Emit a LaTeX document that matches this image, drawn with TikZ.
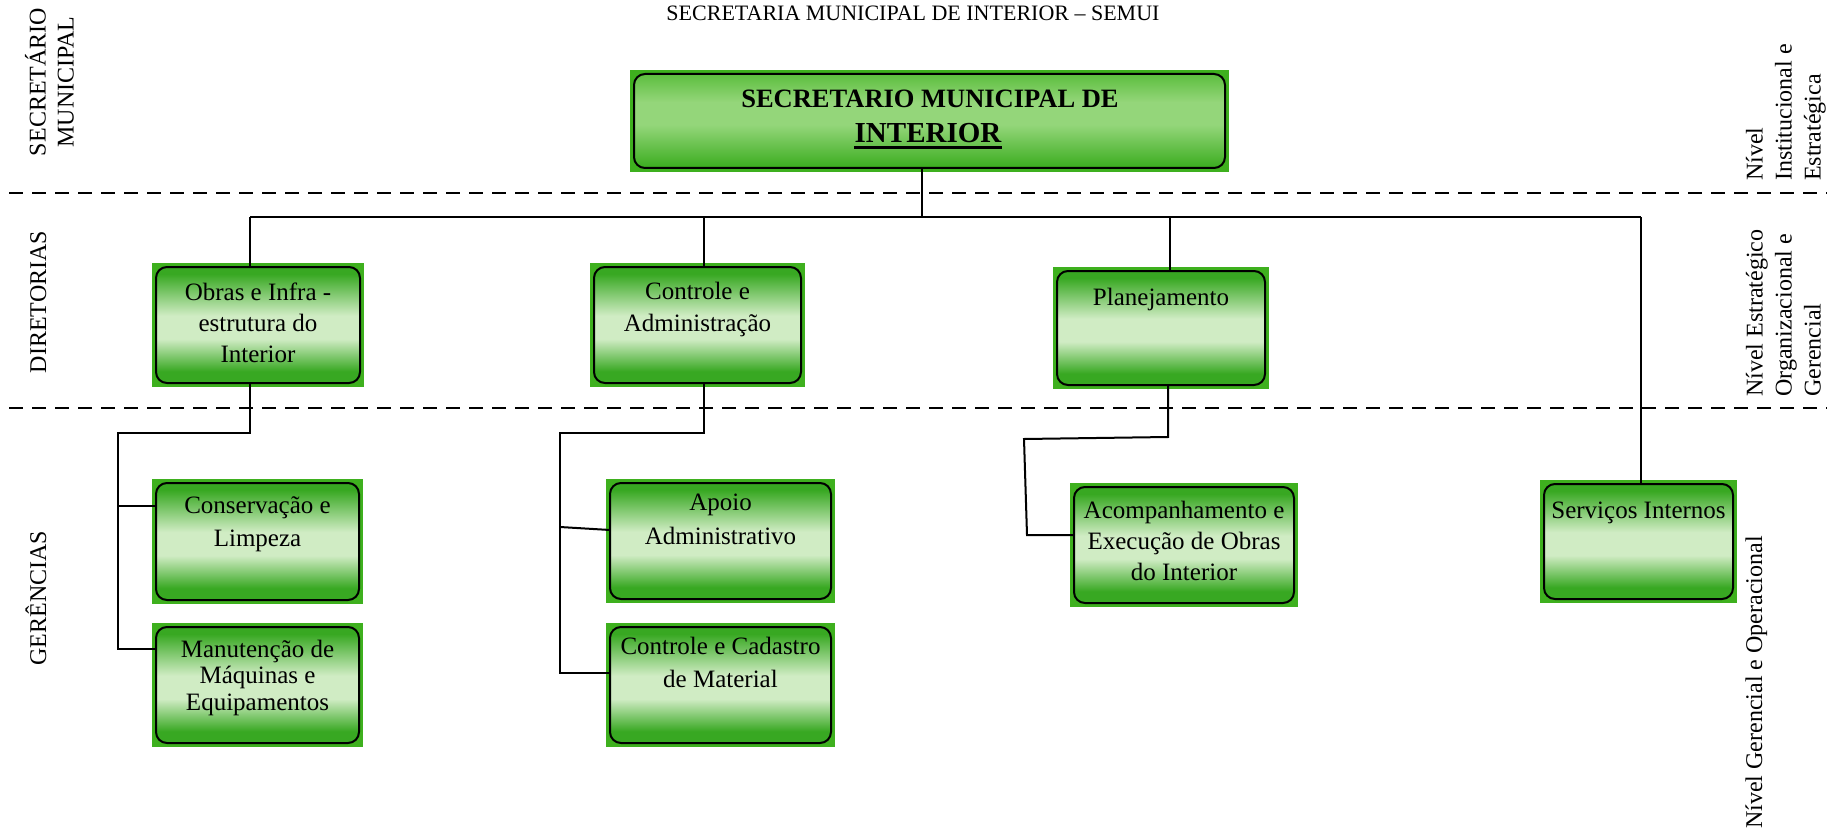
\documentclass[tikz,border=0pt]{standalone}
\usepackage{fontspec}
\setmainfont{Liberation Serif}
\usetikzlibrary{backgrounds}
\definecolor{bggreen}{RGB}{62,176,30}
\definecolor{gdark}{RGB}{56,168,34}
\definecolor{glight}{RGB}{208,236,196}
\definecolor{tbot}{RGB}{58,172,30}
\definecolor{tmid}{RGB}{148,214,122}
\definecolor{ttop}{RGB}{92,190,62}
\pgfdeclareverticalshading{gshade}{100bp}{color(0bp)=(gdark); color(25bp)=(gdark); color(30bp)=(gdark); color(44bp)=(glight); color(54bp)=(glight); color(72bp)=(gdark); color(75bp)=(gdark); color(100bp)=(gdark)}
\pgfdeclareverticalshading{tshade}{100bp}{color(0bp)=(tbot); color(25bp)=(tbot); color(48bp)=(tmid); color(60bp)=(tmid); color(75bp)=(ttop); color(100bp)=(ttop)}
\begin{document}
\begin{tikzpicture}[x=1pt,y=-1pt,
  gbox/.style={draw=black, line width=2pt, rounded corners=11pt, shade, shading=gshade, inner sep=0pt, outer sep=0pt},
  tbox/.style={gbox, shading=tshade},
  btext/.style={font=\fontsize{25}{32}\selectfont, align=center, anchor=north, inner sep=0pt},
  conn/.style={line width=2pt, draw=black},
  sepline/.style={line width=2pt, dash pattern=on 14pt off 9pt},
  lbl/.style={font=\fontsize{24}{28}\selectfont, rotate=90, inner sep=0pt}]
\useasboundingbox (0,0) rectangle (1827,829);

% title
\node[font=\fontsize{22}{26}\selectfont, inner sep=0pt] (title) at (913,13) {SECRETARIA MUNICIPAL DE INTERIOR – SEMUI};

% separators
\draw[sepline] (9,193) -- (1827,193);
\draw[sepline] (9,408) -- (1827,408);

% top box
\node[tbox, minimum width=591pt, minimum height=94pt] (top) at (929.5,121) {};
\node[anchor=base, inner sep=0pt, font=\bfseries\fontsize{26.5}{30}\selectfont] (topl1) at (930,107.8) {SECRETARIO MUNICIPAL DE};
\node[anchor=base, inner sep=0pt, font=\bfseries\fontsize{29}{32}\selectfont] (topl2) at (928,142.6) {INTERIOR};
\draw[line width=3pt] ([yshift=-5pt]topl2.base west) -- ([yshift=-5pt]topl2.base east);

% directorates
\node[gbox, minimum width=204pt, minimum height=116pt] (obras) at (258,325) {};
\node[btext, font=\fontsize{25}{31}\selectfont] (obrast) at (258,278.3) {\strut Obras e Infra -\\estrutura do\\Interior};
\node[gbox, minimum width=207pt, minimum height=116pt] (controle) at (697.5,325) {};
\node[btext, font=\fontsize{25}{32}\selectfont] (controlet) at (697.5,276.6) {\strut Controle e\\Administração};
\node[gbox, minimum width=208pt, minimum height=114pt] (planej) at (1161,328) {};
\node[btext] (planejt) at (1161,282.6) {\strut Planejamento};

% managements
\node[gbox, minimum width=203pt, minimum height=117pt] (conserv) at (257.5,541.5) {};
\node[btext, font=\fontsize{25}{33}\selectfont] (conservt) at (257.5,489.9) {\strut Conservação e\\Limpeza};
\node[gbox, minimum width=203pt, minimum height=116pt] (manut) at (257.5,685) {};
\node[btext, font=\fontsize{25}{26.5}\selectfont] (manutt) at (257.5,638.5) {\strut Manutenção de\\Máquinas e\\Equipamentos};
\node[gbox, minimum width=221pt, minimum height=116pt] (apoio) at (720.5,541) {};
\node[btext, font=\fontsize{25}{34}\selectfont] (apoiot) at (720.5,486.2) {\strut Apoio\\Administrativo};
\node[gbox, minimum width=221pt, minimum height=116pt] (cadastro) at (720.5,685) {};
\node[btext, font=\fontsize{25}{33}\selectfont] (cadastrot) at (720.5,630.9) {\strut Controle e Cadastro\\de Material};
\node[gbox, minimum width=220pt, minimum height=116pt] (acomp) at (1184,545) {};
\node[btext, font=\fontsize{25}{31}\selectfont] (acompt) at (1184,496.3) {\strut Acompanhamento e\\Execução de Obras\\do Interior};
\node[gbox, minimum width=189pt, minimum height=115pt] (servicos) at (1638.5,541.5) {};
\node[btext] (servicost) at (1638.5,495.6) {\strut Serviços Internos};

% connectors from the top
\coordinate (hub) at (922,217);
\coordinate (busL) at (250,217);
\coordinate (busR) at (1641,217);
\coordinate (cT) at (704,217);
\coordinate (pT) at (1170,217);
\draw[conn] (top.south -| hub) -- (hub);
\draw[conn] (busL) -- (busR);
\draw[conn] (busL) -- (busL |- obras.north);
\draw[conn] (cT) -- (cT |- controle.north);
\draw[conn] (pT) -- (pT |- planej.north);
\draw[conn] (busR) -- (busR |- servicos.north);

% obras branch
\coordinate (o1) at (250,433);
\coordinate (o2) at (118,433);
\coordinate (o3) at (118,506);
\coordinate (o4) at (118,649);
\draw[conn] (obras.south -| o1) -- (o1) -- (o2) -- (o4) -- (o4 -| manut.west);
\draw[conn] (o3) -- (o3 -| conserv.west);

% controle branch
\coordinate (c1) at (704,433);
\coordinate (c2) at (560,433);
\coordinate (c3) at (560,527);
\coordinate (c4) at (560,673);
\draw[conn] (controle.south -| c1) -- (c1) -- (c2) -- (c4) -- (c4 -| cadastro.west);
\draw[conn] (c3) -- ([yshift=-3pt]c3 -| apoio.west);

% planejamento branch
\coordinate (p1) at (1168,437);
\coordinate (p2) at (1024,439);
\coordinate (p3) at (1027,535);
\draw[conn] (planej.south -| p1) -- (p1) -- (p2) -- (p3) -- (p3 -| acomp.west);

% side labels
\node[lbl, align=center, anchor=south] (secm) at (74,82) {SECRETÁRIO\\MUNICIPAL};
\node[lbl, anchor=base] (dirs) at (46,302) {DIRETORIAS};
\node[lbl, anchor=base] (gers) at (46,598) {GERÊNCIAS};
\node[lbl, font=\fontsize{24}{29}\selectfont, align=left, anchor=south west] (niv1) at (1826,181) {Nível\\Institucional e\\Estratégica};
\node[lbl, font=\fontsize{24}{29}\selectfont, align=left, anchor=south west] (niv2) at (1821,397) {Nível Estratégico\\Organizacional e\\Gerencial};
\node[lbl, anchor=base west] (niv3) at (1762,829) {Nível Gerencial e Operacional};

% background
\begin{scope}[on background layer]
\fill[white] (0,0) rectangle (1827,829);
\foreach \n in {top,obras,controle,planej,conserv,manut,apoio,cadastro,acomp,servicos}
  \fill[bggreen] ([shift={(-4pt,4pt)}]\n.north west) rectangle ([shift={(4pt,-4pt)}]\n.south east);
\end{scope}
\end{tikzpicture}
\end{document}
